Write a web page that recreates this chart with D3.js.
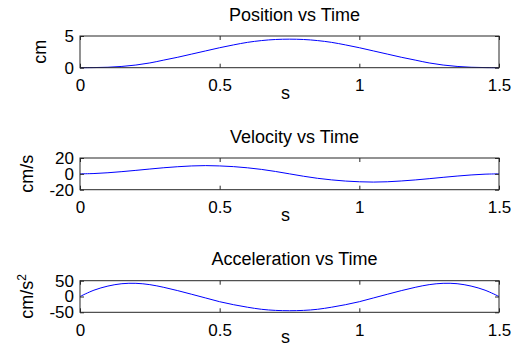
<!DOCTYPE html>
<html>
<head>
<meta charset="utf-8">
<script src="https://cdn.jsdelivr.net/npm/d3@7"></script>
<style>
  html, body { margin: 0; padding: 0; background: #fff; }
  svg { display: block; font-family: "Liberation Sans", Arial, Helvetica, sans-serif; }
</style>
</head>
<body>
<svg id="chart" width="525" height="347"></svg>
<script>
// ---- data ----
const time = [0,0.05,0.1,0.15,0.2,0.25,0.3,0.35,0.4,0.45,0.5,0.55,0.6,0.65,0.7,0.75,
              0.8,0.85,0.9,0.95,1.0,1.05,1.1,1.15,1.2,1.25,1.3,1.35,1.4,1.45,1.5];
const position = [0,0.02,0.07,0.2,0.42,0.75,1.2,1.65,2.15,2.65,3.15,3.6,4.0,4.28,4.45,4.5,
                  4.45,4.28,4.0,3.6,3.15,2.65,2.15,1.65,1.2,0.75,0.42,0.2,0.07,0.02,0];
const velocity = [0,0.4,1.4,2.8,4.4,6.1,7.7,9.0,10.0,10.4,10.0,9.1,7.6,5.6,3.0,0,
                  -3.0,-5.6,-7.6,-9.1,-10.0,-10.4,-10.0,-9.0,-7.7,-6.1,-4.4,-2.8,-1.4,-0.4,0];
const acceleration = [0,20,33,40.5,41.7,37.5,29,18.5,7,-4.7,-16.5,-26,-34,-40.5,-44,-45,
                      -44,-40.5,-34,-26,-16.5,-4.7,7,18.5,29,37.5,41.7,40.5,33,20,0];
const titles = ["Position vs Time", "Velocity vs Time", "Acceleration vs Time"];
const yLabels = ["cm", "cm/s", "cm/s"];
const xTicks = [0, 0.5, 1, 1.5];
const yTicksPos = [0, 5];
const yTicksVel = [-20, 0, 20];
const yTicksAcc = [-50, 0, 50];
const xLabel = "s";

// ---- layout ----
const svg = d3.select("#chart");
const left = 80, right = 499;
const panels = [
  { top: 36,    bottom: 67.7,  values: position,     domain: [0, 5],    ticks: yTicksPos, labelX: 46, sup: false },
  { top: 158,   bottom: 189.7, values: velocity,     domain: [-20, 20], ticks: yTicksVel, labelX: 33, sup: false },
  { top: 280.7, bottom: 312.3, values: acceleration, domain: [-50, 50], ticks: yTicksAcc, labelX: 33, sup: true }
];

const x = d3.scaleLinear().domain([0, 1.5]).range([left, right]);
const fmt = d => String(d);

panels.forEach((p, i) => {
  const y = d3.scaleLinear().domain(p.domain).range([p.bottom, p.top]);
  const g = svg.append("g");

  // data line
  const line = d3.line()
    .x((d, k) => x(time[k]))
    .y(d => y(d))
    .curve(d3.curveCatmullRom);
  g.append("path")
    .datum(p.values)
    .attr("d", line)
    .attr("fill", "none")
    .attr("stroke", "#0000ff")
    .attr("stroke-width", 1);

  // axes (inward ticks)
  const bottomAxis = d3.axisBottom(x).tickValues(xTicks).tickFormat(fmt)
    .tickSizeInner(-4).tickSizeOuter(0).tickPadding(11.5);
  const topAxis = d3.axisTop(x).tickValues(xTicks).tickFormat("")
    .tickSizeInner(-4).tickSizeOuter(0);
  const leftAxis = d3.axisLeft(y).tickValues(p.ticks).tickFormat(fmt)
    .tickSizeInner(-4).tickSizeOuter(0).tickPadding(6);
  const rightAxis = d3.axisRight(y).tickValues(p.ticks).tickFormat("")
    .tickSizeInner(-4).tickSizeOuter(0);

  const styleAxis = sel => {
    sel.select(".domain").remove();
    sel.selectAll("line").attr("stroke", "#262626");
    sel.selectAll("text").attr("fill", "#000").style("font-size", "17px")
      .style("font-family", '"Liberation Sans", Arial, sans-serif');
  };
  g.append("g").attr("transform", `translate(0,${p.bottom})`).call(bottomAxis).call(styleAxis);
  g.append("g").attr("transform", `translate(0,${p.top})`).call(topAxis).call(styleAxis);
  g.append("g").attr("transform", `translate(${left},0)`).call(leftAxis).call(styleAxis);
  g.append("g").attr("transform", `translate(${right},0)`).call(rightAxis).call(styleAxis);

  // box
  g.append("rect")
    .attr("x", left).attr("y", p.top)
    .attr("width", right - left).attr("height", p.bottom - p.top)
    .attr("fill", "none").attr("stroke", "#262626").attr("stroke-width", 1);

  // title
  g.append("text")
    .attr("x", (left + right) / 2 + 5)
    .attr("y", p.top - 15.3)
    .attr("text-anchor", "middle")
    .style("font-size", "18px")
    .text(titles[i]);

  // x label
  g.append("text")
    .attr("x", (left + right) / 2 - 4)
    .attr("y", p.bottom + 31)
    .attr("text-anchor", "middle")
    .style("font-size", "18px")
    .text(xLabel);

  // y label
  const cy = (p.top + p.bottom) / 2;
  const yl = g.append("text")
    .attr("transform", `translate(${p.labelX},${cy}) rotate(-90)`)
    .attr("text-anchor", "middle")
    .style("font-size", "18px");
  yl.append("tspan").text(yLabels[i]);
  if (p.sup) {
    yl.append("tspan").attr("dy", -7).style("font-size", "12px").text("2");
  }
});
</script>
</body>
</html>
